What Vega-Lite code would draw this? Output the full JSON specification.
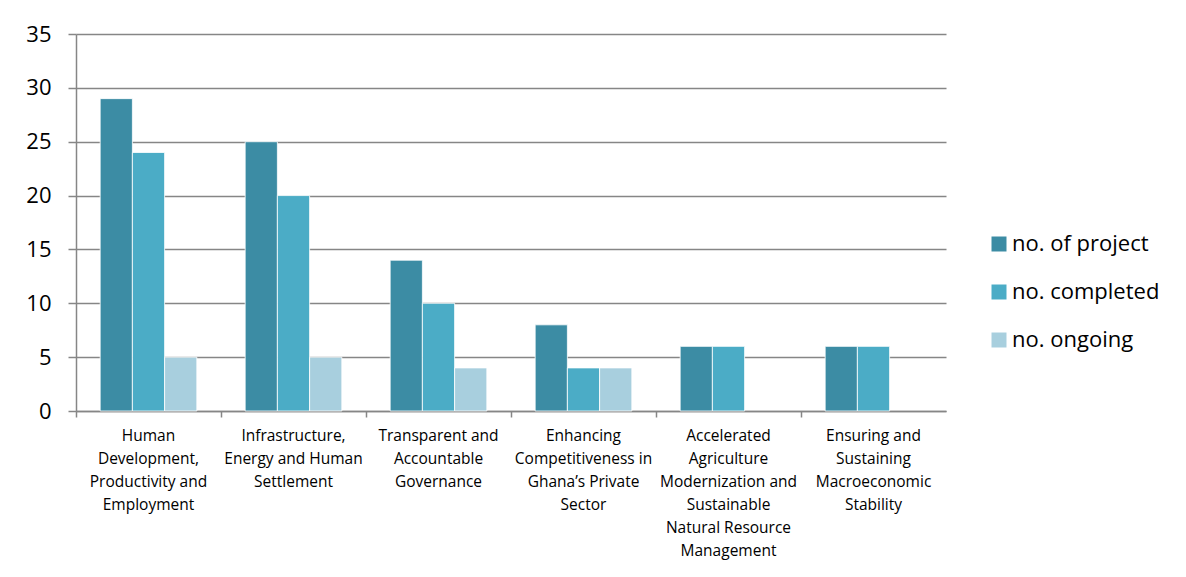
{
  "$schema": "https://vega.github.io/schema/vega-lite/v6.json",
  "width": 870,
  "height": 377,
  "autosize": {"type": "none"},
  "padding": {"left": 76, "top": 34, "right": 240, "bottom": 166},
  "background": "white",
  "config": {"view": {"stroke": null}, "font": "Open Sans"},
  "data": {
    "values": [
      {"category": "Human|Development,|Productivity and|Employment", "series": "no. of project", "value": 29},
      {"category": "Human|Development,|Productivity and|Employment", "series": "no. completed", "value": 24},
      {"category": "Human|Development,|Productivity and|Employment", "series": "no. ongoing", "value": 5},
      {"category": "Infrastructure,|Energy and Human|Settlement", "series": "no. of project", "value": 25},
      {"category": "Infrastructure,|Energy and Human|Settlement", "series": "no. completed", "value": 20},
      {"category": "Infrastructure,|Energy and Human|Settlement", "series": "no. ongoing", "value": 5},
      {"category": "Transparent and|Accountable|Governance", "series": "no. of project", "value": 14},
      {"category": "Transparent and|Accountable|Governance", "series": "no. completed", "value": 10},
      {"category": "Transparent and|Accountable|Governance", "series": "no. ongoing", "value": 4},
      {"category": "Enhancing|Competitiveness in|Ghana’s Private|Sector", "series": "no. of project", "value": 8},
      {"category": "Enhancing|Competitiveness in|Ghana’s Private|Sector", "series": "no. completed", "value": 4},
      {"category": "Enhancing|Competitiveness in|Ghana’s Private|Sector", "series": "no. ongoing", "value": 4},
      {"category": "Accelerated|Agriculture|Modernization and|Sustainable|Natural Resource|Management", "series": "no. of project", "value": 6},
      {"category": "Accelerated|Agriculture|Modernization and|Sustainable|Natural Resource|Management", "series": "no. completed", "value": 6},
      {"category": "Ensuring and|Sustaining|Macroeconomic|Stability", "series": "no. of project", "value": 6},
      {"category": "Ensuring and|Sustaining|Macroeconomic|Stability", "series": "no. completed", "value": 6}
    ]
  },
  "mark": {"type": "bar", "stroke": "white", "strokeWidth": 0.8},
  "encoding": {
    "x": {
      "field": "category",
      "type": "nominal",
      "sort": null,
      "scale": {"paddingInner": 0, "paddingOuter": 0},
      "axis": {
        "title": null,
        "labelAngle": 0,
        "labelExpr": "split(datum.label, '|')",
        "labelFont": "Open Sans",
        "labelFontSize": 15.5,
        "labelLineHeight": 23,
        "labelColor": "#000000",
        "labelBaseline": "top",
        "labelPadding": 11,
        "labelLimit": 0,
        "bandPosition": 0,
        "labelOffset": 0,
        "tickSize": 6,
        "tickColor": "#868686",
        "tickWidth": 1.5,
        "domainColor": "#868686",
        "domainWidth": 1.5,
        "grid": false
      }
    },
    "xOffset": {
      "field": "series",
      "type": "nominal",
      "scale": {"domain": ["no. of project", "no. completed", "no. ongoing"], "paddingInner": 0, "paddingOuter": 0.75}
    },
    "y": {
      "field": "value",
      "type": "quantitative",
      "scale": {"domain": [0, 35], "nice": false},
      "axis": {
        "title": null,
        "values": [0, 5, 10, 15, 20, 25, 30, 35],
        "labelFont": "Open Sans",
        "labelFontSize": 22,
        "labelColor": "#000000",
        "labelPadding": 17,
        "tickSize": 8,
        "tickColor": "#868686",
        "tickWidth": 1.5,
        "domainColor": "#868686",
        "domainWidth": 1.5,
        "grid": true,
        "gridColor": "#868686",
        "gridWidth": 1.3
      }
    },
    "color": {
      "field": "series",
      "type": "nominal",
      "scale": {"domain": ["no. of project", "no. completed", "no. ongoing"], "range": ["#3c8ca4", "#4bacc6", "#a8cfde"]},
      "legend": {
        "title": null,
        "orient": "none",
        "legendX": 912,
        "legendY": 199,
        "symbolType": "square",
        "symbolSize": 225,
        "symbolStrokeWidth": 0,
        "labelFont": "Open Sans",
        "labelFontSize": 22,
        "labelColor": "#000000",
        "labelOffset": 2,
        "rowPadding": 26
      }
    }
  }
}
